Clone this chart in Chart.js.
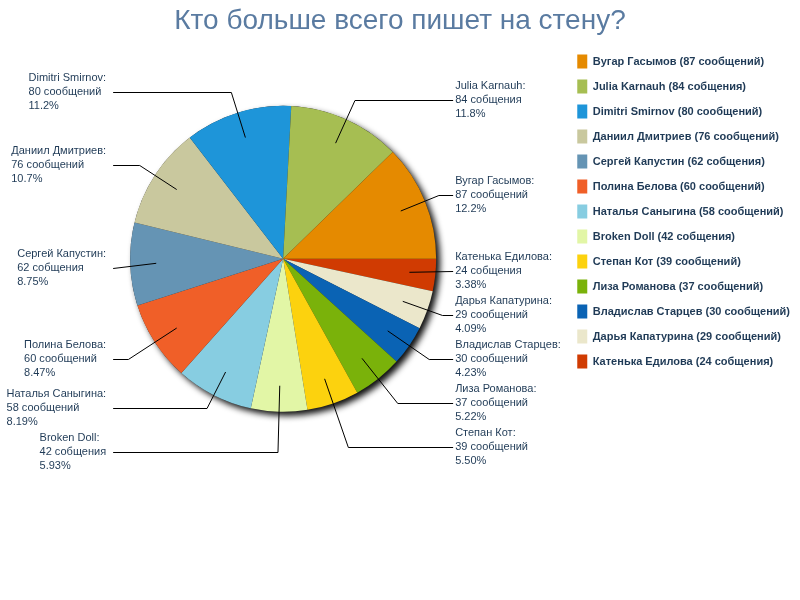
<!DOCTYPE html>
<html>
<head>
<meta charset="utf-8">
<script src="https://cdn.jsdelivr.net/npm/chart.js@4.4.1/dist/chart.umd.min.js"></script>
<style>
  html, body { margin: 0; padding: 0; background: #fff; }
  #chart { display: block; }
</style>
</head>
<body>
<canvas id="chart" width="800" height="600"></canvas>
<script>
const titleText = 'Кто больше всего пишет на стену?';

const names = [
  'Вугар Гасымов', 'Julia Karnauh', 'Dimitri Smirnov', 'Даниил Дмитриев',
  'Сергей Капустин', 'Полина Белова', 'Наталья Саныгина', 'Broken Doll',
  'Степан Кот', 'Лиза Романова', 'Владислав Старцев', 'Дарья Капатурина',
  'Катенька Едилова'
];
const counts = [87, 84, 80, 76, 62, 60, 58, 42, 39, 37, 30, 29, 24];
const colors = [
  '#e58a00', '#a6be52', '#1e95d9', '#c9c89e', '#6594b4', '#f05f28', '#87cde1',
  '#e2f6a6', '#fcd20e', '#7ab20a', '#0a63b4', '#ebe7cb', '#d03b02'
];

const total = counts.reduce((s, v) => s + v, 0);

// the source writes "собщения" for 2..4
function word(n) {
  const d = n % 10, h = n % 100;
  return (d >= 2 && d <= 4 && (h < 12 || h > 14)) ? 'собщения' : 'сообщений';
}

// percent cut (not rounded) to 3 significant digits
function pct(v) {
  const p = v / total * 100;
  const dig = p >= 10 ? 1 : 2;
  const f = Math.pow(10, dig);
  return (Math.floor(p * f + 1e-9) / f).toFixed(dig);
}

// pie goes counter-clockwise from 3 o'clock, so feed chart.js the reversed order
const rev = arr => arr.slice().reverse();
const origIndex = j => names.length - 1 - j;

function spread(items, gap) {
  items.sort((p, q) => p.ny - q.ny);
  const groups = [];
  items.forEach(it => {
    groups.push({items: [it], sum: it.ny});
    while (groups.length > 1) {
      const g = groups[groups.length - 1], p = groups[groups.length - 2];
      const gTop = g.sum / g.items.length - (g.items.length - 1) * gap / 2;
      const pBottom = p.sum / p.items.length + (p.items.length - 1) * gap / 2;
      if (gTop - pBottom >= gap) break;
      p.items.push(...g.items);
      p.sum += g.sum;
      groups.pop();
    }
  });
  groups.forEach(g => {
    const top = g.sum / g.items.length - (g.items.length - 1) * gap / 2;
    g.items.forEach((it, k) => { it.y = top + k * gap; });
  });
}

const pieShadow = {
  id: 'pieShadow',
  beforeDatasetsDraw(chart) {
    const arc = chart.getDatasetMeta(0).data[0];
    if (!arc) return;
    const ctx = chart.ctx;
    ctx.save();
    ctx.shadowColor = 'rgba(0, 0, 0, 0.95)';
    ctx.shadowBlur = 6;
    ctx.shadowOffsetX = 4;
    ctx.shadowOffsetY = 4;
    ctx.fillStyle = '#222';
    ctx.beginPath();
    ctx.arc(arc.x, arc.y, arc.outerRadius, 0, Math.PI * 2);
    ctx.fill();
    ctx.restore();
  }
};

const leaderLabels = {
  id: 'leaderLabels',
  afterDatasetsDraw(chart) {
    const meta = chart.getDatasetMeta(0);
    const ctx = chart.ctx;
    const first = meta.data[0];
    const cx = first.x, cy = first.y, r = first.outerRadius;
    const left = [], right = [];
    meta.data.forEach((arc, j) => {
      const a = (arc.startAngle + arc.endAngle) / 2;
      const item = {i: origIndex(j), a, ny: cy + Math.sin(a) * r * 1.16};
      (Math.cos(a) >= 0 ? right : left).push(item);
    });
    spread(left, 44);
    spread(right, 44);

    ctx.save();
    ctx.font = '11px "Liberation Sans", Arial, sans-serif';
    ctx.textBaseline = 'middle';
    ctx.textAlign = 'left';
    ctx.lineWidth = 1;
    ctx.strokeStyle = '#000';
    ctx.fillStyle = '#1f3a56';
    left.concat(right).forEach(it => {
      const isRight = Math.cos(it.a) >= 0;
      const ly = Math.round(it.y) + 3;
      const y = ly + 0.5;
      const endX = cx + (isRight ? 1 : -1) * (r + 17);
      const sx = cx + Math.cos(it.a) * r * 0.83;
      const sy = cy + Math.sin(it.a) * r * 0.83;
      ctx.beginPath();
      ctx.moveTo(sx, sy);
      const s = Math.sin(it.a);
      if (Math.abs(s) > 0.05) {
        const d = (y - cy) / s;
        const bx = cx + Math.cos(it.a) * d;
        if (d > r * 0.83 && (isRight ? bx < endX - 2 : bx > endX + 2)) {
          ctx.lineTo(bx, y);
        }
      }
      ctx.lineTo(endX, y);
      ctx.stroke();

      const v = counts[it.i];
      const lines = [names[it.i] + ':', v + ' ' + word(v), pct(v) + '%'];
      const maxW = Math.max(...lines.map(t => ctx.measureText(t).width));
      const tx = isRight ? endX + 2 : endX - 7 - maxW;
      lines.forEach((t, k) => ctx.fillText(t, tx, ly + (k - 1) * 14));
    });
    ctx.restore();
  }
};

new Chart(document.getElementById('chart'), {
  type: 'pie',
  data: {
    labels: rev(names),
    datasets: [{
      data: rev(counts),
      backgroundColor: rev(colors),
      borderWidth: 0,
      radius: 153
    }]
  },
  options: {
    responsive: false,
    animation: false,
    devicePixelRatio: 1,
    rotation: 90,
    layout: {padding: {bottom: 126}},
    plugins: {
      title: {
        display: true,
        text: titleText,
        color: '#5a7ba1',
        font: {family: '"Liberation Sans", Arial, sans-serif', size: 28, weight: 'normal'},
        padding: {top: 4, bottom: 6}
      },
      legend: {
        position: 'right',
        align: 'start',
        fullSize: false,
        reverse: true,
        labels: {
          boxWidth: 10,
          boxHeight: 14,
          padding: 11,
          color: '#1f3a56',
          font: {family: '"Liberation Sans", Arial, sans-serif', size: 11, weight: 'bold'},
          generateLabels: chart => {
            const items = Chart.overrides.doughnut.plugins.legend.labels.generateLabels(chart);
            items.forEach(it => {
              const i = origIndex(it.index);
              it.text = names[i] + ' (' + counts[i] + ' ' + word(counts[i]) + ')';
            });
            return items;
          }
        }
      },
      tooltip: {enabled: false}
    }
  },
  plugins: [pieShadow, leaderLabels]
});
</script>
</body>
</html>
